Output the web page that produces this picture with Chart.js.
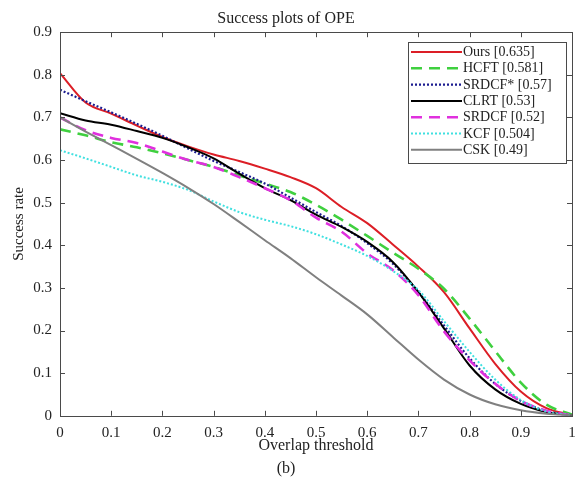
<!DOCTYPE html>
<html>
<head>
<meta charset="utf-8">
<script src="https://cdn.jsdelivr.net/npm/chart.js@4.4.1/dist/chart.umd.min.js"></script>
<style>
html,body{margin:0;padding:0;background:#fff;}
#wrap{width:586px;height:478px;}
</style>
</head>
<body>
<div id="wrap"><canvas id="c" width="586" height="478"></canvas></div>
<script>
const thresholds = [0,0.05,0.1,0.15,0.2,0.25,0.3,0.35,0.4,0.45,0.5,0.55,0.6,0.65,0.7,0.75,0.8,0.85,0.9,0.95,1];
const ours      = [0.804,0.735,0.709,0.681,0.654,0.632,0.613,0.598,0.580,0.560,0.534,0.490,0.452,0.402,0.350,0.290,0.205,0.122,0.057,0.018,0.002];
const hcft      = [0.672,0.658,0.642,0.630,0.616,0.600,0.584,0.564,0.545,0.525,0.495,0.460,0.422,0.383,0.345,0.298,0.228,0.152,0.078,0.026,0.003];
const srdcfStar = [0.765,0.738,0.712,0.685,0.657,0.627,0.598,0.572,0.545,0.512,0.478,0.445,0.405,0.357,0.290,0.212,0.135,0.075,0.035,0.011,0.001];
const clrt      = [0.710,0.693,0.683,0.668,0.652,0.630,0.604,0.568,0.534,0.506,0.472,0.443,0.408,0.361,0.290,0.205,0.118,0.062,0.028,0.009,0.001];
const srdcf     = [0.700,0.670,0.652,0.640,0.620,0.600,0.584,0.560,0.534,0.506,0.465,0.432,0.381,0.342,0.283,0.198,0.130,0.075,0.035,0.012,0.001];
const kcf       = [0.623,0.604,0.584,0.564,0.549,0.530,0.503,0.478,0.460,0.445,0.426,0.402,0.375,0.340,0.295,0.222,0.150,0.085,0.037,0.010,0.001];
const csk       = [0.700,0.667,0.635,0.603,0.570,0.535,0.497,0.455,0.412,0.370,0.325,0.282,0.238,0.185,0.132,0.085,0.050,0.027,0.013,0.005,0.001];
const seriesLabels = ['Ours [0.635]','HCFT [0.581]','SRDCF* [0.57]','CLRT [0.53]','SRDCF [0.52]','KCF [0.504]','CSK [0.49]'];
const xTicks = [0,0.1,0.2,0.3,0.4,0.5,0.6,0.7,0.8,0.9,1];
const xTickLabels = ['0','0.1','0.2','0.3','0.4','0.5','0.6','0.7','0.8','0.9','1'];
const yTicks = [0,0.1,0.2,0.3,0.4,0.5,0.6,0.7,0.8,0.9];
const yTickLabels = ['0','0.1','0.2','0.3','0.4','0.5','0.6','0.7','0.8','0.9'];

const FONT = "'Liberation Serif', 'Times New Roman', serif";
const AXIS = '#4a4a4a';

const styles = [
  {color:'#dc1e26', width:2, dash:[]},
  {color:'#3fd03f', width:2.6, dash:[11,7]},
  {color:'#1c1c90', width:2.2, dash:[2,2]},
  {color:'#000000', width:2, dash:[]},
  {color:'#e030de', width:2.6, dash:[11,7]},
  {color:'#40e0e0', width:2, dash:[2,2]},
  {color:'#808080', width:2, dash:[]}
];
const allSeries = [ours,hcft,srdcfStar,clrt,srdcf,kcf,csk];

const datasets = allSeries.map((s,i)=>({
  label: seriesLabels[i],
  data: thresholds.map((t,j)=>({x:t,y:s[j]})),
  borderColor: styles[i].color,
  borderWidth: styles[i].width,
  borderDash: styles[i].dash,
  pointRadius: 0,
  fill: false,
  cubicInterpolationMode: 'monotone'
})).reverse();

const framePlugin = {
  id:'frame',
  afterDatasetsDraw(chart){
    const ctx = chart.ctx;
    const a = chart.chartArea;
    const xs = chart.scales.x, ys = chart.scales.y;
    ctx.save();
    ctx.strokeStyle = AXIS;
    ctx.lineWidth = 1;
    ctx.setLineDash([]);
    ctx.beginPath();
    const tl = 5;
    xTicks.forEach(v=>{
      const px = Math.round(xs.getPixelForValue(v))+0.5;
      ctx.moveTo(px,a.bottom); ctx.lineTo(px,a.bottom-tl);
      ctx.moveTo(px,a.top); ctx.lineTo(px,a.top+tl);
    });
    yTicks.forEach(v=>{
      const py = Math.round(ys.getPixelForValue(v))+0.5;
      ctx.moveTo(a.left,py); ctx.lineTo(a.left+tl,py);
      ctx.moveTo(a.right,py); ctx.lineTo(a.right-tl,py);
    });
    ctx.stroke();
    ctx.strokeRect(Math.round(a.left)+0.5, Math.round(a.top)+0.5, Math.round(a.right-a.left), Math.round(a.bottom-a.top));

    // legend
    const lx = 408, ly = 42, lw = 158, lh = 121;
    ctx.fillStyle = '#fff';
    ctx.fillRect(lx,ly,lw,lh);
    ctx.strokeStyle = AXIS;
    ctx.lineWidth = 1;
    ctx.strokeRect(lx+0.5,ly+0.5,lw,lh);
    ctx.font = '14px ' + FONT;
    ctx.textBaseline = 'middle';
    ctx.textAlign = 'left';
    seriesLabels.forEach((lab,i)=>{
      const y = ly + 10 + i*16.3;
      const st = styles[i];
      ctx.strokeStyle = st.color;
      ctx.lineWidth = st.width;
      ctx.setLineDash(st.dash);
      ctx.beginPath();
      ctx.moveTo(lx+3,y); ctx.lineTo(lx+54,y);
      ctx.stroke();
      ctx.setLineDash([]);
      ctx.fillStyle = '#222';
      ctx.fillText(lab, lx+55, y+0.5);
    });
    ctx.restore();
  }
};

new Chart(document.getElementById('c'), {
  type:'line',
  data:{datasets},
  options:{
    responsive:false,
    animation:false,
    layout:{padding:{left:0,right:14,top:0,bottom:0}},
    plugins:{
      legend:{display:false},
      tooltip:{enabled:false},
      title:{display:true,text:'Success plots of OPE',color:'#222',font:{family:FONT,size:16,weight:'normal'},padding:{top:9,bottom:4}},
      subtitle:{display:true,position:'bottom',text:'(b)',color:'#222',font:{family:FONT,size:16,weight:'normal'},padding:{top:0,bottom:0}}
    },
    scales:{
      x:{
        type:'linear',min:0,max:1,
        afterBuildTicks(s){ s.ticks = xTicks.map(v=>({value:v})); },
        afterFit(s){ s.height = 43; },
        ticks:{callback:(v,i)=>xTickLabels[i],font:{family:FONT,size:15},color:'#222',padding:8,maxRotation:0,autoSkip:false},
        grid:{display:false,drawTicks:false},
        border:{display:false},
        title:{display:true,text:'Overlap threshold',color:'#222',font:{family:FONT,size:16},padding:{top:0,bottom:3}}
      },
      y:{
        type:'linear',min:0,max:0.9,
        afterBuildTicks(s){ s.ticks = yTicks.map(v=>({value:v})); },
        afterFit(s){ s.width = 60; },
        ticks:{callback:(v,i)=>yTickLabels[i],font:{family:FONT,size:15},color:'#222',padding:8,autoSkip:false},
        grid:{display:false,drawTicks:false},
        border:{display:false},
        title:{display:true,text:'Success rate',color:'#222',font:{family:FONT,size:15},padding:{top:10,bottom:0}}
      }
    }
  },
  plugins:[framePlugin]
});
</script>
</body>
</html>
